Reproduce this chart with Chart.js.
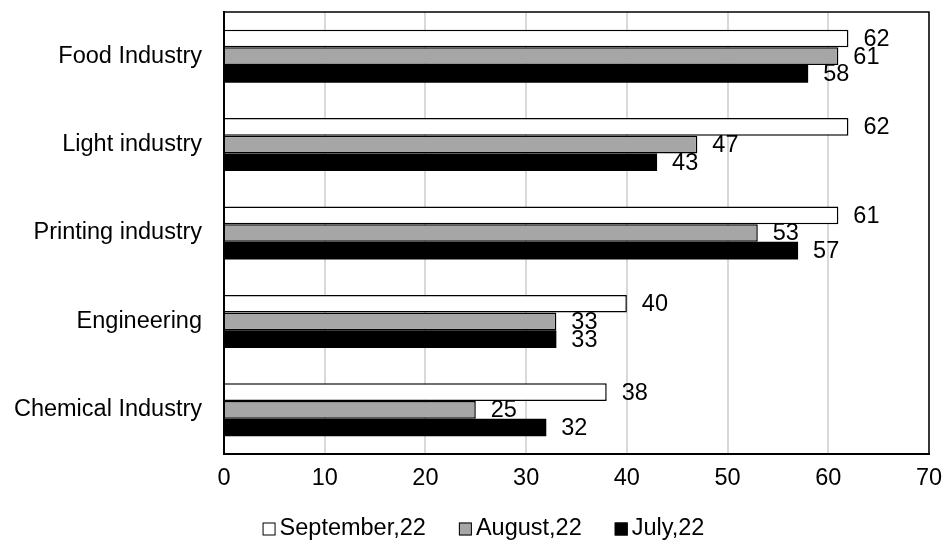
<!DOCTYPE html>
<html>
<head>
<meta charset="utf-8">
<script src="https://cdn.jsdelivr.net/npm/chart.js@4/dist/chart.umd.min.js"></script>
<style>
	html, body { margin: 0; padding: 0; background: #fff; }
</style>
</head>
<body>
<canvas id="myChart" width="943" height="542"></canvas>
<script>
var industries = ['Food Industry', 'Light industry', 'Printing industry', 'Engineering', 'Chemical Industry'];
var september22 = [62, 62, 61, 40, 38];
var august22 = [61, 47, 53, 33, 25];
var july22 = [58, 43, 57, 33, 32];
var seriesNames = ['September,22', 'August,22', 'July,22'];
var seriesColors = ['#ffffff', '#a6a6a6', '#000000'];
var axisMin = 0, axisMax = 70, axisStep = 10;

var FONT = '"Liberation Sans", Arial, sans-serif';
var FONT_SIZE = 23.5;

Chart.defaults.color = '#000';
Chart.defaults.font.family = FONT;
Chart.defaults.font.size = FONT_SIZE;

// value next to the end of each bar
var valueLabels = {
	id: 'valueLabels',
	afterDatasetsDraw: function(chart) {
		var ctx = chart.ctx;
		ctx.save();
		ctx.font = FONT_SIZE + 'px ' + FONT;
		ctx.fillStyle = '#000';
		ctx.textAlign = 'left';
		ctx.textBaseline = 'middle';
		chart.data.datasets.forEach(function(ds, i) {
			chart.getDatasetMeta(i).data.forEach(function(bar, j) {
				ctx.fillText(ds.data[j], bar.x + 15, bar.y + 1);
			});
		});
		ctx.restore();
	}
};

// top and right edges of the plot box
var plotFrame = {
	id: 'plotFrame',
	afterDraw: function(chart) {
		var a = chart.chartArea, ctx = chart.ctx;
		ctx.save();
		ctx.strokeStyle = '#000';
		ctx.lineWidth = 1.5;
		ctx.beginPath();
		ctx.moveTo(a.left, a.top);
		ctx.lineTo(a.right, a.top);
		ctx.lineTo(a.right, a.bottom);
		ctx.stroke();
		ctx.restore();
	}
};

// legend row under the axis
var bottomLegend = {
	id: 'bottomLegend',
	afterDraw: function(chart) {
		var ctx = chart.ctx;
		var box = 13, gapText = 4, gapItem = 33;
		ctx.save();
		ctx.font = FONT_SIZE + 'px ' + FONT;
		ctx.textBaseline = 'middle';
		ctx.textAlign = 'left';
		var total = 0;
		var widths = chart.data.datasets.map(function(ds) {
			return ctx.measureText(ds.label).width;
		});
		widths.forEach(function(w, i) {
			total += box + gapText + w + (i < widths.length - 1 ? gapItem : 0);
		});
		var x = chart.width / 2 + 12 - total / 2;
		var y = 529;
		chart.data.datasets.forEach(function(ds, i) {
			ctx.fillStyle = ds.backgroundColor;
			ctx.fillRect(x, y - box / 2, box, box);
			ctx.strokeStyle = '#000';
			ctx.lineWidth = 1;
			ctx.strokeRect(x + 0.5, y - box / 2 + 0.5, box - 1, box - 1);
			ctx.fillStyle = '#000';
			ctx.fillText(ds.label, x + box + gapText, y);
			x += box + gapText + widths[i] + gapItem;
		});
		ctx.restore();
	}
};

var ctx = document.getElementById('myChart').getContext('2d');
var myChart = new Chart(ctx, {
	type: 'bar',
	data: {
		labels: industries,
		datasets: [
			{ label: seriesNames[0], data: september22, backgroundColor: seriesColors[0], borderColor: '#000', borderWidth: 1.5 },
			{ label: seriesNames[1], data: august22, backgroundColor: seriesColors[1], borderColor: '#000', borderWidth: 1.5 },
			{ label: seriesNames[2], data: july22, backgroundColor: seriesColors[2], borderColor: '#000', borderWidth: 0 }
		]
	},
	options: {
		indexAxis: 'y',
		responsive: false,
		animation: false,
		devicePixelRatio: 1,
		layout: { padding: { top: 12, right: 14, left: 0, bottom: 0 } },
		datasets: {
			bar: { categoryPercentage: 0.6, barPercentage: 1.0, borderSkipped: 'start' }
		},
		scales: {
			x: {
				min: axisMin,
				max: axisMax,
				ticks: { stepSize: axisStep, padding: 10, color: '#000' },
				grid: { color: '#d9d9d9', lineWidth: 2, drawTicks: false },
				border: { color: '#000', width: 2 },
				afterFit: function(scale) {
					scale.height = 88;
					scale.paddingLeft = 0;
					scale.paddingRight = 0;
				}
			},
			y: {
				ticks: { padding: 22, color: '#000' },
				grid: { display: false, drawTicks: false },
				border: { color: '#000', width: 2 },
				afterFit: function(scale) {
					scale.width = 224;
					scale.paddingTop = 0;
					scale.paddingBottom = 0;
				}
			}
		},
		plugins: {
			legend: { display: false },
			tooltip: { enabled: false }
		}
	},
	plugins: [valueLabels, plotFrame, bottomLegend]
});
</script>
</body>
</html>
